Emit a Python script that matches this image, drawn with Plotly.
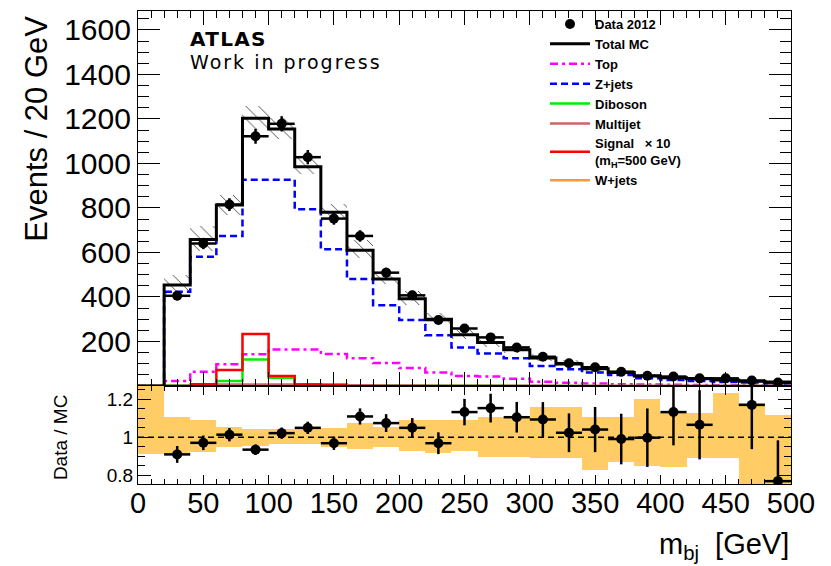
import numpy as np
import plotly.graph_objects as go

# ---------------------------------------------------------------------------
# m_bj distribution, 20 GeV bins from 20 to 500 GeV (bin 0-20 is empty)
# ---------------------------------------------------------------------------
bin_low = list(range(20, 500, 20))          # lower edge of each filled bin

data_2012 = [405, 640, 815, 1122, 1178, 1028, 752, 674, 509, 407, 296, 258,
             218, 173, 131, 102, 84, 64, 46, 42, 34, 34, 24, 15]
total_mc = [453, 658, 813, 1203, 1155, 985, 780, 610, 480, 392, 300, 230,
            195, 163, 125, 99, 77, 60, 44, 37, 32, 26, 21, 18]
z_jets = [423, 580, 674, 927, 927, 794, 614, 480, 363, 296, 228, 173,
          146, 124, 90, 75, 60, 49, 34, 27, 22, 17, 15, 10]
top = [22, 64, 97, 142, 164, 164, 143, 124, 103, 80, 60, 45,
       42, 32, 19, 14, 11, 8, 6, 5, 4, 3, 2, 2]
diboson = [2, 5, 22, 119, 37, 8, 5, 2, 2, 1, 1, 1,
           1, 0, 0, 0, 0, 0, 0, 0, 0, 0, 0, 0]
multijet = [1, 4, 6, 6, 6, 5, 5, 3, 2, 2, 1, 1,
            1, 1, 1, 0, 0, 0, 0, 0, 0, 0, 0, 0]
signal_x10 = [0, 7, 72, 233, 45, 6, 4, 0, 0, 0, 0, 0,
              0, 0, 0, 0, 0, 0, 0, 0, 0, 0, 0, 0]
w_jets = [1, 1, 2, 2, 2, 2, 1, 1, 1, 1, 0, 0,
          0, 0, 0, 0, 0, 0, 0, 0, 0, 0, 0, 0]

# Data / MC ratio per bin (None: outside the displayed range)
ratio = [0.909, 0.970, 1.013, 0.934, 1.021, 1.049, 0.968, 1.109, 1.074, 1.049,
         0.968, 1.132, 1.153, 1.105, 1.093, 1.023, 1.040, 0.990, 0.997, 1.132,
         1.065, None, 1.170, 0.768]

# MC uncertainty envelope (relative), bins 0-20 ... 480-500
band_low = [0.909, 0.909, 0.921, 0.947, 0.956, 0.962, 0.965, 0.951, 0.939,
            0.951, 0.930, 0.916, 0.926, 0.898, 0.898, 0.890, 0.890, 0.825,
            0.868, 0.851, 0.842, 0.890, 0.890, 0.700, 0.700]
band_high = [1.300, 1.105, 1.092, 1.056, 1.044, 1.044, 1.047, 1.047, 1.074,
             1.056, 1.090, 1.092, 1.092, 1.105, 1.105, 1.160, 1.160, 1.105,
             1.105, 1.200, 1.130, 1.130, 1.234, 1.180, 1.118]

BIN_W = 20
X_MAX = 500

# ---------------------------------------------------------------------------
W, H = 831, 566
M_L, M_R, M_T, M_B = 138, 40, 10, 82
PLOT_W = W - M_L - M_R
PLOT_H = H - M_T - M_B
RATIO_FRAC = (484 - 385.7) / PLOT_H
FONT = "Liberation Sans, Arial, Helvetica, sans-serif"


def px_x(px):
    return (px - M_L) / PLOT_W


def px_y(py):
    return (H - M_B - py) / PLOT_H


def step(lows, vals, trim=False):
    """Outline of a histogram as points for an 'hv' shaped line."""
    lows = list(lows)
    vals = list(vals)
    if trim:
        nz = [i for i, v in enumerate(vals) if v]
        lows = lows[nz[0]:nz[-1] + 1]
        vals = vals[nz[0]:nz[-1] + 1]
        xs = lows + [lows[-1] + BIN_W]
        ys = vals + [vals[-1]]
        return xs, ys
    xs = [0] + lows + [lows[-1] + BIN_W]
    ys = [0] + vals + [vals[-1]]
    return xs, ys


centers = [b + BIN_W / 2 for b in bin_low]
fig = go.Figure()

# hatched MC uncertainty around the total prediction
mc_lo = [m * lo for m, lo in zip(total_mc, band_low[1:])]
mc_hi = [m * hi for m, hi in zip(total_mc, band_high[1:])]
fig.add_trace(go.Bar(
    x=centers, y=[h - l for h, l in zip(mc_hi, mc_lo)], base=mc_lo,
    width=BIN_W, xaxis="x", yaxis="y", showlegend=False, hoverinfo="skip",
    marker=dict(color="rgba(0,0,0,0)", line=dict(width=0),
                pattern=dict(shape="\\", fgcolor="#444444", bgcolor="rgba(0,0,0,0)",
                             size=9, solidity=0.1, fillmode="replace")),
))

# MC uncertainty band in the ratio panel
band_centers = [0 + BIN_W / 2] + centers
fig.add_trace(go.Bar(
    x=band_centers, y=[h - l for h, l in zip(band_high, band_low)], base=band_low,
    width=BIN_W, xaxis="x2", yaxis="y2", showlegend=False, hoverinfo="skip",
    marker=dict(color="#ffcc66", line=dict(width=0)),
))

components = [
    ("W+jets", w_jets, "#ff9933", "solid", 2.5, 8, False),
    ("Z+jets", z_jets, "#0000ff", "7px,4px", 2.5, 4, False),
    ("Top", top, "#ff00ff", "8px,4px,3px,4px", 2.5, 3, False),
    ("Diboson", diboson, "#00ee00", "solid", 2.5, 5, False),
    ("Multijet", multijet, "#cc6666", "solid", 2.5, 6, False),
    ("Signal   \u00d7 10<br>(m<sub>H</sub>=500 GeV)", signal_x10, "#ff0000",
     "solid", 2.5, 7, True),
]
for name, vals, color, dash, width, rank, trim in components:
    xs, ys = step(bin_low, vals, trim=trim)
    fig.add_trace(go.Scatter(
        x=xs, y=ys, mode="lines", name=name, legendrank=rank,
        line=dict(color=color, dash=dash, width=width, shape="hv"),
        xaxis="x", yaxis="y", hoverinfo="skip",
    ))

xs, ys = step(bin_low, total_mc)
fig.add_trace(go.Scatter(
    x=xs, y=ys, mode="lines", name="Total MC", legendrank=2,
    line=dict(color="black", width=3, shape="hv"), xaxis="x", yaxis="y",
))

fig.add_trace(go.Scatter(
    x=centers, y=data_2012, mode="markers", name="Data 2012", legendrank=1,
    marker=dict(color="black", size=10, symbol="circle"),
    error_y=dict(type="data", array=list(np.sqrt(data_2012)), color="black",
                 thickness=2.5, width=0),
    error_x=dict(type="constant", value=BIN_W / 2, color="black",
                 thickness=2.5, width=0),
    xaxis="x", yaxis="y",
))

# ratio points; statistical error of data relative to the prediction
ratio_err = [np.sqrt(d) / m for d, m in zip(data_2012, total_mc)]
fig.add_trace(go.Scatter(
    x=centers, y=ratio, mode="markers", showlegend=False,
    marker=dict(color="black", size=10, symbol="circle"),
    error_y=dict(type="data", array=ratio_err, color="black",
                 thickness=2.5, width=0),
    error_x=dict(type="constant", value=BIN_W / 2, color="black",
                 thickness=2.5, width=0),
    xaxis="x2", yaxis="y2",
))

axis_common = dict(showgrid=False, zeroline=False, showline=True,
                   linecolor="black", linewidth=1.2, mirror="ticks",
                   ticks="inside", tickcolor="black", tickwidth=1)

fig.update_layout(
    width=W, height=H,
    margin=dict(l=M_L, r=M_R, t=M_T, b=M_B, pad=0),
    paper_bgcolor="white", plot_bgcolor="white",
    font=dict(family=FONT, color="black"),
    barmode="overlay", bargap=0,
    xaxis=dict(**axis_common, domain=[0, 1], range=[0, X_MAX], anchor="y",
               dtick=50, ticklen=14, showticklabels=False,
               minor=dict(ticks="inside", dtick=10, ticklen=7,
                          tickcolor="black")),
    yaxis=dict(**axis_common, domain=[RATIO_FRAC, 1], range=[0, 1685],
               anchor="x", tickvals=list(range(200, 1601, 200)), ticklen=22,
               tickfont=dict(size=30), ticklabelstandoff=0,
               minor=dict(ticks="inside", dtick=50, ticklen=11,
                          tickcolor="black")),
    xaxis2=dict(**axis_common, domain=[0, 1], range=[0, X_MAX], anchor="y2",
                dtick=50, ticklen=9, tickfont=dict(size=29),
                ticklabelstandoff=-7,
                minor=dict(ticks="inside", dtick=10, ticklen=5,
                           tickcolor="black")),
    yaxis2=dict(**axis_common, domain=[0, RATIO_FRAC], range=[0.753, 1.27],
                anchor="x2", tickvals=[0.8, 1.0, 1.2], ticktext=["0.8", "1", "1.2"],
                ticklen=13, tickfont=dict(size=19), ticklabelstandoff=0,
                minor=dict(ticks="inside", dtick=0.05, ticklen=7,
                           tickcolor="black")),
    legend=dict(x=px_x(545), y=px_y(9), xanchor="left", yanchor="top",
                bgcolor="rgba(0,0,0,0)", borderwidth=0, tracegroupgap=0,
                font=dict(family=FONT, size=13, weight="bold"),
                itemwidth=40),
    showlegend=True,
)

# reference line at unity in the ratio panel
fig.add_shape(type="line", xref="x2", yref="y2", x0=0, x1=X_MAX, y0=1, y1=1,
              line=dict(color="black", width=1.5, dash="6px,4px"))

fig.add_annotation(text="Events / 20 GeV", textangle=-90, showarrow=False,
                   xref="paper", yref="paper", x=px_x(37), y=px_y(128),
                   xanchor="center", yanchor="middle",
                   font=dict(family=FONT, size=31))
fig.add_annotation(text="Data / MC", textangle=-90, showarrow=False,
                   xref="paper", yref="paper", x=px_x(60), y=px_y(437),
                   xanchor="center", yanchor="middle",
                   font=dict(family=FONT, size=19))
fig.add_annotation(text="m<sub>bj</sub>  [GeV]", showarrow=False,
                   xref="paper", yref="paper", x=1.0, y=px_y(546),
                   xanchor="right", yanchor="middle",
                   font=dict(family=FONT, size=29))
# experiment label: two lines, line pitch set by the outer font size
fig.add_annotation(
    text=('<span style="font-size:20px;letter-spacing:1.3px"><b>ATLAS</b></span><br>'
          '<span style="font-size:19px;letter-spacing:2px">Work in progress</span>'),
    showarrow=False, xref="paper", yref="paper", x=px_x(188), y=px_y(49),
    xanchor="left", yanchor="middle", align="left",
    font=dict(family="DejaVu Sans, sans-serif", size=17.4))

fig.write_html("out.html")
